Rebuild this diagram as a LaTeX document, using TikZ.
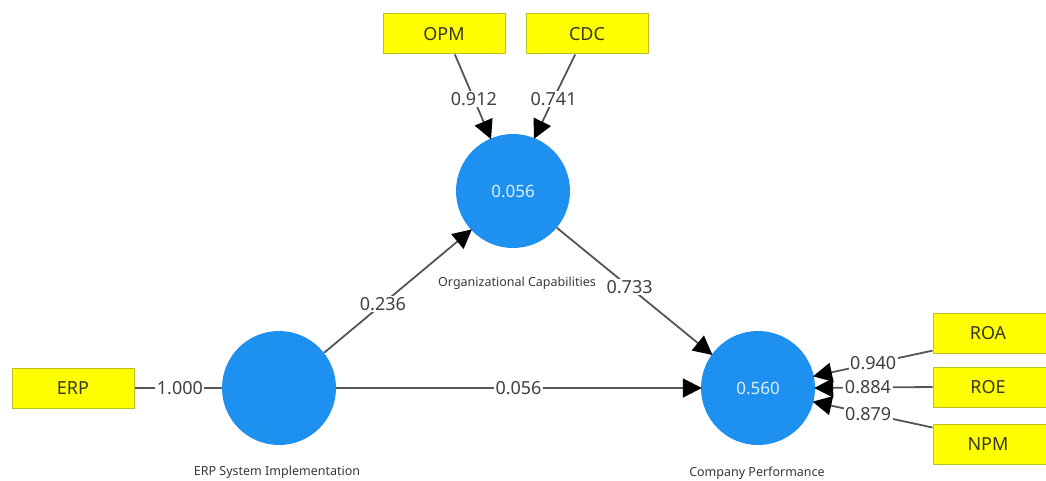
\documentclass[tikz,border=0pt]{standalone}
\usepackage{fontspec}
\setmainfont{Noto Sans}
\usetikzlibrary{arrows.meta}
\definecolor{lvblue}{RGB}{30,144,240}
\definecolor{indyel}{RGB}{255,255,0}
\definecolor{indbord}{RGB}{190,190,40}
\definecolor{linegray}{RGB}{85,85,85}
\definecolor{txtdark}{RGB}{55,55,35}
\tikzset{
  latent/.style={circle, fill=lvblue, draw=none, minimum size=114pt, inner sep=0pt,
     text=white!85!lvblue, font=\fontsize{17}{20}\selectfont},
  indicator/.style={rectangle, fill=indyel, draw=indbord, line width=1pt,
     minimum width=122pt, minimum height=40pt, inner sep=0pt,
     text=txtdark, font=\fontsize{18}{21}\selectfont},
  caption/.style={font=\fontsize{12.5}{14}\selectfont, text=black!78},
  conn/.style={draw=linegray, line width=1.8pt},
  arr/.style={conn, -{Triangle[length=19pt,width=19pt,color=black]}, shorten >=-1pt},
  coef/.style={fill=white, inner sep=1.5pt, text=black!75,
     font=\fontsize{18}{21}\selectfont},
}
\begin{document}
\begin{tikzpicture}[x=1pt, y=-1pt]
\useasboundingbox[fill=white] (0,0) rectangle (1046,481);
% latent variables
\node[latent] (oc) at (513,191) {0.056};
\node[latent] (erp) at (279,388) {};
\node[latent] (cp) at (758,388) {0.560};
\node[caption] (occap) at (517,283) {Organizational Capabilities};
\node[caption] (erpcap) at (277,472) {ERP System Implementation};
\node[caption] (cpcap) at (757,473) {Company Performance};
% indicators
\node[indicator] (opm) at (444,34) {OPM};
\node[indicator] (cdc) at (587,34) {CDC};
\node[indicator] (erpi) at (73,388) {ERP};
\node[indicator] (roa) at (994,333) {\hspace*{-12pt}ROA};
\node[indicator] (roe) at (994,387) {\hspace*{-12pt}ROE};
\node[indicator] (npm) at (994,444) {\hspace*{-12pt}NPM};
% outer loadings
\draw[arr] (opm.298) -- node[coef, pos=0.53] (l1) {0.912} (oc.113);
\draw[arr] (cdc.240) -- node[coef, pos=0.53] (l2) {0.741} (oc.68);
\draw[conn] (erpi.east) -- node[coef, pos=0.52] (l3) {1.000} (erp.west);
\draw[arr] (roa.196) -- node[coef, pos=0.5] (l4) {0.940} (cp.12);
\draw[arr] (roe.west) -- node[coef, pos=0.55] (l5) {0.884} (cp.0);
\draw[arr] (npm.165) -- node[coef, pos=0.54] (l6) {0.879} (cp.-14);
% path coefficients
\draw[arr] (erp.38) -- node[coef, pos=0.4] (p1) {0.236} (oc.223);
\draw[arr] (oc.320) -- node[coef, pos=0.47] (p2) {0.733} (cp.144);
\draw[arr] (erp.east) -- node[coef, pos=0.5] (p3) {0.056} (cp.west);
\end{tikzpicture}
\end{document}
